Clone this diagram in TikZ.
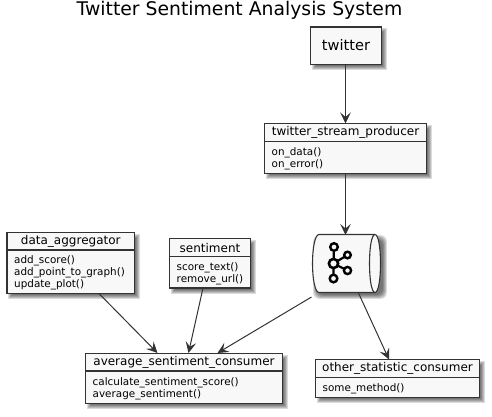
\documentclass[tikz,border=0pt]{standalone}
\usepackage{fontspec}
\setmainfont{DejaVu Sans}
\usetikzlibrary{arrows.meta,fit,calc}
\definecolor{umlline}{HTML}{333333}
\definecolor{umlfill}{HTML}{F8F8F8}
\tikzset{
  umlbox/.style={draw=umlline,fill=umlfill,line width=1.3pt,inner sep=0pt,outer sep=0pt},
  heavybox/.style={umlbox,line width=1.8pt},
  divider/.style={draw=umlline,line width=1.1pt},
  classname/.style={inner sep=0pt,font=\fontsize{12}{14}\selectfont,text=black},
  members/.style={inner sep=0pt,anchor=west,align=left,font=\fontsize{10.4}{12}\selectfont,text=black},
  conn/.style={draw=umlline,line width=1pt,-{Stealth[length=11pt,width=10.5pt,inset=4.5pt]}},
  logo/.style={draw=black,line width=2.4pt,fill=umlfill},
  softshadow/.style={fill=black,draw=none,opacity=0.14},
}
\newcommand\dropshadow[4]{%
  \foreach \e in {2.8,1.8,0.8,-0.2,-1.2}{%
    \fill[softshadow] ({#1+3-\e+1},{#2+3-\e+1}) rectangle ({#3+3+\e},{#4+3+\e});}%
}
% name, x1, y1, x2, ydiv, y2, title, members
\newcommand\classbox[8]{%
  \dropshadow{#2}{#3}{#4}{#6}%
  \node[umlbox,fit={(#2,#3)(#4,#6)}] (#1) {};
  \draw[divider] (#2,#5) -- (#4,#5);
  \node[classname] (#1-name) at ({(#2+#4)/2},{(#3+#5)/2+0.3}) {#7};
  \node[members] (#1-members) at ({#2+7},{(#5+#6)/2+1.3}) {#8};
}
\begin{document}
\begin{tikzpicture}[x=1pt,y=-1pt]
\useasboundingbox (0,0) rectangle (492,416);
\fill[white] (0,0) rectangle (492,416);

\node[inner sep=0pt,font=\fontsize{18.8}{20}\selectfont] (title) at (239.5,10.7) {Twitter Sentiment Analysis System};

% twitter
\dropshadow{310.5}{27}{381.5}{64.5}
\node[heavybox,fit={(310.5,27)(381.5,64.5)}] (twitter) {};
\node[inner sep=0pt,font=\fontsize{14.6}{16}\selectfont] (twitter-name) at (346,45.5) {twitter};

\classbox{producer}{264.5}{123.5}{426.5}{141.5}{173.5}{twitter\_stream\_producer}{on\_data()\\on\_error()}
\classbox{aggregator}{7}{232.5}{134.5}{250}{293.5}{data\_aggregator}{add\_score()\\add\_point\_to\_graph()\\update\_plot()}
\classbox{sentiment}{169.5}{238.5}{250.5}{256.5}{288}{sentiment}{score\_text()\\remove\_url()}
\classbox{average}{85.5}{353.5}{282.5}{371}{403.5}{average\_sentiment\_consumer}{calculate\_sentiment\_score()\\average\_sentiment()}
\classbox{other}{315.5}{359.5}{479.5}{377.5}{397.5}{other\_statistic\_consumer}{some\_method()}

% queue
\foreach \e in {2.8,1.8,0.8,-0.2,-1.2}{%
  \fill[softshadow,rounded corners=6pt] ({316-\e},{238-\e}) rectangle ({384+\e},{296+\e});}
\node[inner sep=0pt,outer sep=0pt,fit={(312.5,234.5)(380,292.5)}] (queue) {};
\path[draw=umlline,fill=umlfill,line width=1.1pt]
  (319,234.5) -- (375,234.5)
  .. controls (378.5,234.5) and (380.5,248) .. (380.5,263.5)
  .. controls (380.5,279) and (378.5,292.5) .. (375,292.5)
  -- (319,292.5)
  .. controls (315,292.5) and (312.5,279) .. (312.5,263.5)
  .. controls (312.5,248) and (315,234.5) .. (319,234.5) -- cycle;
\draw[umlline,line width=1.1pt] (375,234.5)
  .. controls (371.5,234.5) and (369.5,248) .. (369.5,263.5)
  .. controls (369.5,279) and (371.5,292.5) .. (375,292.5);
% kafka logo
\coordinate (hub) at (333.5,263.5);
\draw[black,line width=2.2pt] (hub) -- (334,247.5) (hub) -- (333.5,278.5) (hub) -- (347.5,255) (hub) -- (347.5,270.5);
\draw[logo] (334,247) circle (3.8);
\draw[logo] (333.5,278.5) circle (3.8);
\draw[logo] (347.5,255) circle (3.3);
\draw[logo] (347.5,270.5) circle (3.6);
\draw[logo,line width=2.6pt] (hub) circle (4.6);

% connectors
\draw[conn] ([xshift=-0.5pt]twitter.south) -- (producer.north);
\draw[conn] (producer.south) -- ([yshift=-0.5pt]queue.north -| producer.south);
\draw[conn] ([xshift=28.2pt]aggregator.south) -- ([xshift=-26.5pt,yshift=0.5pt]average.north);
\draw[conn] ([xshift=-7pt]sentiment.south) -- ([xshift=4.5pt,yshift=0.5pt]average.north);
\draw[conn] ([xshift=-1pt,yshift=-4.5pt]queue.south west) -- ([xshift=33.5pt,yshift=0.5pt]average.north);
\draw[conn] ([xshift=12pt]queue.south) -- ([xshift=-8.5pt]other.north);
\end{tikzpicture}
\end{document}
